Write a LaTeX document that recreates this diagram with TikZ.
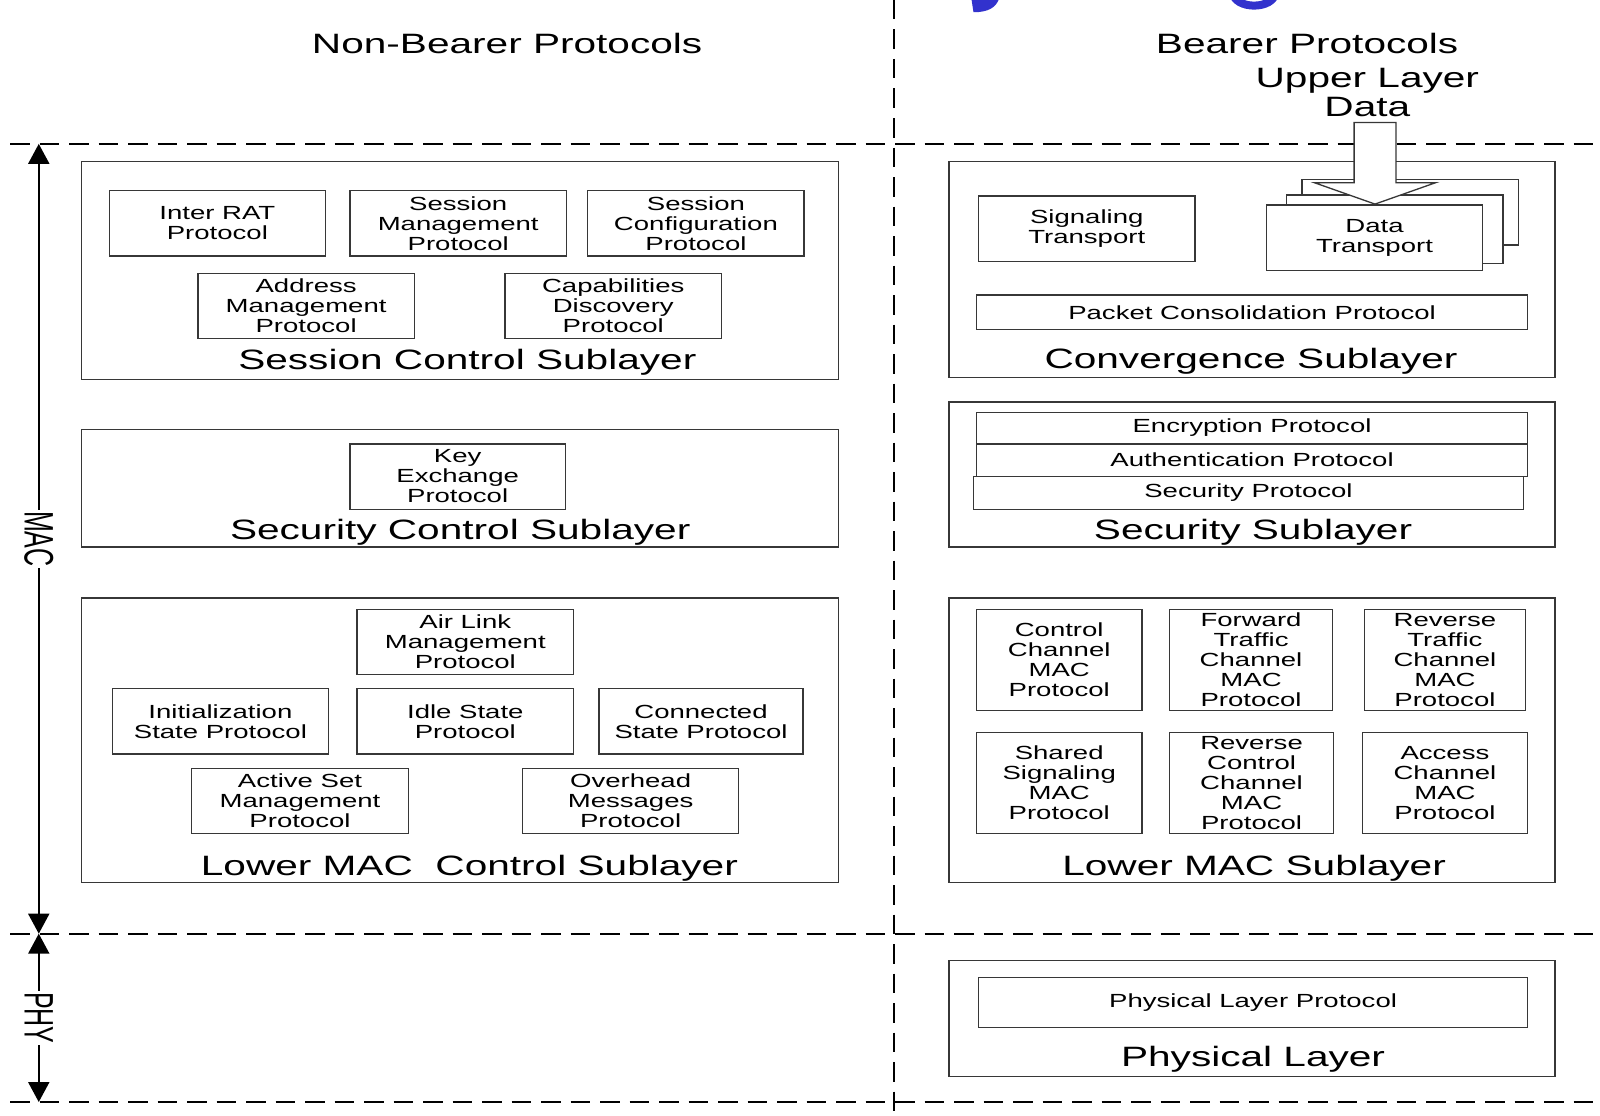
\documentclass[tikz,border=0pt]{standalone}
\usepackage{graphicx}
\usepackage{fontspec}
\setmainfont[FakeStretch=1.45]{Liberation Sans}
\newfontfamily\plainfont{Liberation Sans}
\usetikzlibrary{arrows.meta,fit}
\definecolor{fragblue}{RGB}{50,50,205}
\definecolor{boxline}{RGB}{55,55,55}
\tikzset{
 layerbox/.style={draw=boxline, line width=1.3pt, inner sep=0pt, fill=white},
 protobox/.style={draw=boxline, line width=1.3pt, inner sep=0pt, fill=white},
 prototext/.style={inner sep=0pt, anchor=center, align=center, font=\fontsize{19}{20}\selectfont},
 layerlabel/.style={anchor=base, inner sep=0pt, font=\fontsize{28}{30}\selectfont},
 header/.style={anchor=base, inner sep=0pt, font=\fontsize{28}{30}\selectfont},
 divider/.style={line width=2pt, dash pattern=on 19.5pt off 10pt},
 dimarrow/.style={line width=2pt, {Triangle[width=21pt,length=20pt]}-{Triangle[width=21pt,length=20pt]}},
 sidelabel/.style={fill=white, inner sep=1.5pt, rotate=-90, font=\plainfont\fontsize{25}{25}\selectfont},
 blockarrow/.style={draw=boxline, line width=1.3pt, fill=white, line join=miter},
}
% protocol box: name, x1, y1, x2, y2, text
\newcommand\protobox[6]{%
  \node[protobox, fit={(#2,#3)(#4,#5)}] (#1) {};
  \node[prototext] (#1txt) at (#1.center) {#6};}
\begin{document}
\begin{tikzpicture}[x=1.0204pt, y=-1.0204pt]
\useasboundingbox (0,0) rectangle (1568,1093);
\clip (0,0) rectangle (1568,1093);

% blue fragments of cut-off lettering at the top
\fill[fragblue] (952,-1) -- (979,-1) .. controls (976,7) and (969,12) .. (954,12) -- cycle;
\draw[fragblue, line width=8pt] (1208,-8) .. controls (1209,10) and (1249,10) .. (1250,-8);

% dividers
\coordinate (h1a) at (10,141);  \coordinate (h1b) at (1562,141);
\coordinate (h2a) at (10,915);  \coordinate (h2b) at (1562,915);
\coordinate (h3a) at (10,1080); \coordinate (h3b) at (1562,1080);
\coordinate (vta) at (876,0);   \coordinate (vtb) at (876,1093);
\draw[divider] (h1a) -- (h1b);
\draw[divider] (h2a) -- (h2b);
\draw[divider] (h3a) -- (h3b);
\draw[divider] (vta) -- (vtb);

% headers
\node[header] (nonbearer) at (497,52) {Non-Bearer Protocols};
\node[header] (bearer) at (1281,52) {Bearer Protocols};
\node[header] (upper) at (1340,86) {Upper Layer};
\node[header] (updata) at (1340,114) {Data};

% MAC / PHY dimension arrows
\coordinate (macTop) at (38,141);
\coordinate (macBot) at (38,915);
\coordinate (phyBot) at (38,1080);
\draw[dimarrow] (macTop) -- node[sidelabel] (maclbl) {\scalebox{1}[1.65]{MAC}} (macBot);
\draw[dimarrow] (macBot) -- node[sidelabel] (phylbl) {\scalebox{1}[1.65]{PHY}} (phyBot);

% ---------- left column ----------
\node[layerbox, fit={(80,158)(822,372)}] (scs) {};
\protobox{interrat}{107}{187}{319}{251}{Inter RAT\\Protocol}
\protobox{sessmgmt}{343}{187}{555}{251}{Session\\Management\\Protocol}
\protobox{sesscfg}{576}{187}{788}{251}{Session\\Configuration\\Protocol}
\protobox{addrmgmt}{194}{268}{406}{332}{Address\\Management\\Protocol}
\protobox{capdisc}{495}{268}{707}{332}{Capabilities\\Discovery\\Protocol}
\node[layerlabel] (scslbl) at (458,362) {Session Control Sublayer};

\node[layerbox, fit={(80,421)(822,536)}] (seccs) {};
\protobox{keyex}{343}{435}{554}{499}{Key\\Exchange\\Protocol}
\node[layerlabel] (seccslbl) at (451,529) {Security Control Sublayer};

\node[layerbox, fit={(80,586)(822,865)}] (lmcs) {};
\protobox{airlink}{350}{597}{562}{661}{Air Link\\Management\\Protocol}
\protobox{initst}{110}{675}{322}{739}{Initialization\\State Protocol}
\protobox{idlest}{350}{675}{562}{739}{Idle State\\Protocol}
\protobox{connst}{587}{675}{787}{739}{Connected\\State Protocol}
\protobox{activeset}{188}{753}{400}{817}{Active Set\\Management\\Protocol}
\protobox{overhead}{512}{753}{724}{817}{Overhead\\Messages\\Protocol}
\node[layerlabel] (lmcslbl) at (460,858) {Lower MAC\ \ Control Sublayer};

% ---------- right column ----------
\node[layerbox, fit={(930,158)(1524,370)}] (conv) {};
\protobox{sigtr}{959}{192}{1171}{256}{Signaling\\Transport}
\node[protobox, fit={(1276,176)(1488,240)}] (dt3) {};
\node[protobox, fit={(1261,191)(1473,258)}] (dt2) {};
\protobox{dt1}{1241}{201}{1453}{265}{Data\\Transport}
\protobox{pcp}{957}{289}{1497}{323}{Packet Consolidation Protocol}
\node[layerlabel] (convlbl) at (1226,361) {Convergence Sublayer};

\draw[blockarrow] (1327,120) -- (1368,120) -- (1368,179) -- (1407,179) -- (1347.5,200) -- (1288,179) -- (1327,179) -- cycle;

\node[layerbox, fit={(930,394)(1524,536)}] (secsl) {};
\protobox{encp}{957}{404}{1497}{435}{Encryption Protocol}
\protobox{authp}{957}{435}{1497}{467}{Authentication Protocol}
\protobox{secp}{954}{467}{1493}{499}{Security Protocol}
\node[layerlabel] (secsllbl) at (1228,529) {Security Sublayer};

\node[layerbox, fit={(930,586)(1524,865)}] (lmac) {};
\protobox{ccmac}{957}{597}{1119}{696}{Control\\Channel\\MAC\\Protocol}
\protobox{ftcmac}{1146}{597}{1306}{696}{Forward\\Traffic\\Channel\\MAC\\Protocol}
\protobox{rtcmac}{1337}{597}{1495}{696}{Reverse\\Traffic\\Channel\\MAC\\Protocol}
\protobox{ssmac}{957}{718}{1119}{817}{Shared\\Signaling\\MAC\\Protocol}
\protobox{rccmac}{1146}{718}{1307}{817}{Reverse\\Control\\Channel\\MAC\\Protocol}
\protobox{acmac}{1335}{718}{1497}{817}{Access\\Channel\\MAC\\Protocol}
\node[layerlabel] (lmaclbl) at (1229,858) {Lower MAC Sublayer};

\node[layerbox, fit={(930,941)(1524,1055)}] (physl) {};
\protobox{plp}{959}{958}{1497}{1007}{Physical Layer Protocol}
\node[layerlabel] (physllbl) at (1228,1045) {Physical Layer};
\end{tikzpicture}
\end{document}
